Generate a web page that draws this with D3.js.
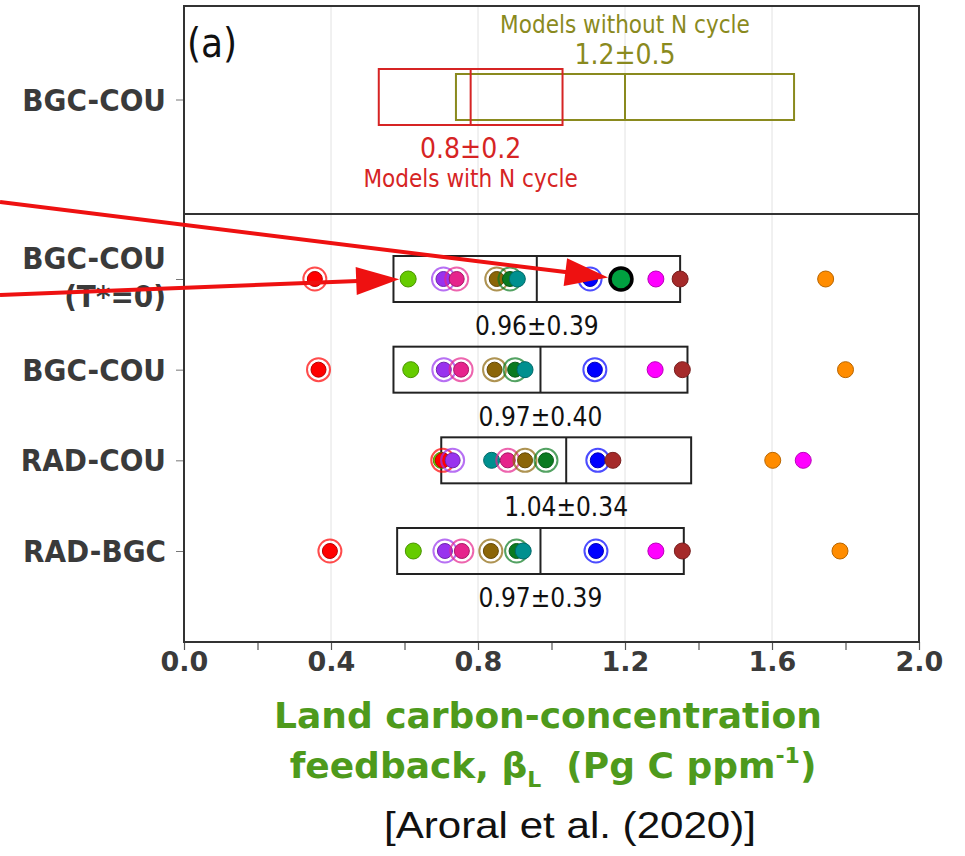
<!DOCTYPE html>
<html>
<head>
<meta charset="utf-8">
<script src="https://cdn.jsdelivr.net/npm/d3@7"></script>
<style>
body { margin: 0; background: #fff; }
text { font-family: "DejaVu Sans", Verdana, sans-serif; }
.cond { font-family: "DejaVu Sans Condensed", "DejaVu Sans", sans-serif; font-stretch: condensed; }
</style>
</head>
<body>
<div id="chart"></div>
<script>
// rows of the lower panel (experiments)
var rowLabels = [["BGC-COU", "(T*=0)"], ["BGC-COU"], ["RAD-COU"], ["RAD-BGC"]];
var topRowLabel = "BGC-COU";

// models, identified by their marker colour; true = model with N cycle (ringed marker)
var modelNames = ["red", "lime", "purple", "pink", "brown", "darkgreen", "teal", "blue", "magenta", "brownred", "orange"];
var withNCycle = [true, false, true, true, true, true, false, true, false, false, false];

// beta_L of each model, one array per row
var rowValues = [
    [0.356, 0.610, 0.706, 0.742, 0.851, 0.887, 0.907, 1.105, 1.284, 1.350, 1.746],
    [0.366, 0.617, 0.707, 0.754, 0.845, 0.901, 0.928, 1.118, 1.282, 1.356, 1.800],
    [0.704, 0.700, 0.731, 0.881, 0.928, 0.985, 0.837, 1.126, 1.685, 1.167, 1.602],
    [0.397, 0.624, 0.710, 0.756, 0.835, 0.905, 0.923, 1.121, 1.284, 1.356, 1.785]
];
var boxMean = [0.96, 0.97, 1.04, 0.97];
var boxSd = [0.39, 0.40, 0.34, 0.39];

// highlighted extra point in the first row
var highlightRow = 0, highlightValue = 1.189;

// upper panel: the two model groups
var groupNames = ["Models with N cycle", "Models without N cycle"];
var groupLow = [0.53, 0.74];
var groupMid = [0.78, 1.20];
var groupHigh = [1.03, 1.66];
var groupText = ["0.8\u00b10.2", "1.2\u00b10.5"];

var xTickValues = [0, 0.2, 0.4, 0.6, 0.8, 1.0, 1.2, 1.4, 1.6, 1.8, 2.0];
var xTickLabels = ["0.0", "", "0.4", "", "0.8", "", "1.2", "", "1.6", "", "2.0"];
var gridValues = [0.4, 0.8, 1.2, 1.6];

// styles
var modelColors = ["#ff0000", "#66cc00", "#9933ee", "#e6238c", "#8b6508", "#0a7a20", "#00908f", "#0000ff", "#ff00ff", "#a52a2a", "#ff8c00"];
var groupColors = ["#d62424", "#8a8a1e"];
var textColor = "#3a3a3a", titleColor = "#4e9a1c", arrowColor = "#ee1111";

var width = 965, height = 856;
var plotLeft = 184, plotRight = 919, plotTop = 6, plotBottom = 642, divider = 214;

var svg = d3.select("#chart").append("svg")
    .attr("width", width)
    .attr("height", height);

var x = d3.scaleLinear().domain([0, 2]).range([plotLeft, plotRight]);
var y = d3.scalePoint().domain(d3.range(rowLabels.length)).range([279, 551]);
var yTop = 97;

// grid lines
svg.append("g").selectAll("line")
    .data(gridValues)
    .enter().append("line")
    .attr("x1", d => x(d)).attr("x2", d => x(d))
    .attr("y1", plotTop).attr("y2", plotBottom)
    .attr("stroke", "#e2e2e2").attr("stroke-width", 1);

// x axis
var xAxis = svg.append("g")
    .attr("transform", "translate(0," + plotBottom + ")")
    .call(d3.axisBottom(x).tickValues(xTickValues)
        .tickFormat((d, i) => xTickLabels[i]).tickSize(8));
xAxis.select(".domain").remove();
xAxis.selectAll("line").attr("stroke", "#555").attr("stroke-width", 1.2);
xAxis.selectAll("text")
    .attr("y", 29).attr("dy", 0)
    .attr("fill", textColor)
    .style("font-size", "27px").style("font-weight", "bold");

// y ticks
var yAxis = svg.append("g")
    .attr("transform", "translate(" + plotLeft + ",0)")
    .call(d3.axisLeft(y).tickFormat("").tickSize(8));
yAxis.select(".domain").remove();
yAxis.selectAll("line").attr("stroke", "#777");
svg.append("line")
    .attr("x1", plotLeft - 8).attr("x2", plotLeft)
    .attr("y1", yTop + 3).attr("y2", yTop + 3)
    .attr("stroke", "#777");

// row labels
svg.append("text")
    .attr("class", "cond")
    .attr("x", 166).attr("y", yTop + 14)
    .attr("text-anchor", "end")
    .attr("fill", textColor)
    .style("font-size", "31px").style("font-weight", "bold")
    .text(topRowLabel);

rowLabels.forEach((lines, i) => {
    var t = svg.append("text")
        .attr("class", "cond")
        .attr("text-anchor", "end")
        .attr("fill", textColor)
        .style("font-size", "31px").style("font-weight", "bold");
    var y0 = lines.length > 1 ? y(i) - 10 : y(i) + 11;
    lines.forEach((s, j) => {
        t.append("tspan").attr("x", 166).attr("y", y0 + j * 38).text(s);
    });
});

// upper panel group boxes (olive first, red on top)
[1, 0].forEach(g => {
    var h = g == 0 ? 28 : 23;
    var grp = svg.append("g").attr("stroke", groupColors[g]).attr("stroke-width", 2).attr("fill", "none");
    grp.append("rect")
        .attr("x", x(groupLow[g])).attr("y", yTop - h)
        .attr("width", x(groupHigh[g]) - x(groupLow[g])).attr("height", 2 * h);
    grp.append("line")
        .attr("x1", x(groupMid[g])).attr("x2", x(groupMid[g]))
        .attr("y1", yTop - h).attr("y2", yTop + h);
});

// upper panel texts
svg.append("text").attr("class", "cond")
    .attr("x", x(groupMid[1])).attr("y", 33)
    .attr("text-anchor", "middle").attr("fill", groupColors[1])
    .style("font-size", "24px").text(groupNames[1]);
svg.append("text").attr("class", "cond")
    .attr("x", x(groupMid[1])).attr("y", 64)
    .attr("text-anchor", "middle").attr("fill", groupColors[1])
    .style("font-size", "28px").text(groupText[1]);
svg.append("text").attr("class", "cond")
    .attr("x", x(groupMid[0])).attr("y", 158)
    .attr("text-anchor", "middle").attr("fill", groupColors[0])
    .style("font-size", "28px").text(groupText[0]);
svg.append("text").attr("class", "cond")
    .attr("x", x(groupMid[0])).attr("y", 187)
    .attr("text-anchor", "middle").attr("fill", groupColors[0])
    .style("font-size", "24px").text(groupNames[0]);

svg.append("text").attr("class", "cond")
    .attr("x", 187).attr("y", 57)
    .attr("fill", "#111")
    .style("font-size", "40px").text("(a)");

// lower panel boxes: mean +/- sd
var boxes = svg.append("g");
rowLabels.forEach((lines, i) => {
    boxes.append("rect")
        .attr("x", x(boxMean[i] - boxSd[i])).attr("y", y(i) - 23)
        .attr("width", x(boxMean[i] + boxSd[i]) - x(boxMean[i] - boxSd[i]))
        .attr("height", 46)
        .attr("fill", "none").attr("stroke", "#222").attr("stroke-width", 2);
    boxes.append("line")
        .attr("x1", x(boxMean[i])).attr("x2", x(boxMean[i]))
        .attr("y1", y(i) - 23).attr("y2", y(i) + 23)
        .attr("stroke", "#222").attr("stroke-width", 2);
    boxes.append("text").attr("class", "cond")
        .attr("x", x(boxMean[i])).attr("y", y(i) + 56)
        .attr("text-anchor", "middle").attr("fill", "#111")
        .style("font-size", "26px")
        .text(d3.format(".2f")(boxMean[i]) + "\u00b1" + d3.format(".2f")(boxSd[i]));
});

// model markers
var points = [];
rowValues.forEach((vals, i) => {
    vals.forEach((v, m) => points.push({row: i, model: m, value: v}));
});
points.sort((a, b) => a.row - b.row || a.value - b.value);

var marks = svg.append("g");
points.forEach(p => {
    var c = modelColors[p.model];
    var cx = x(p.value), cy = y(p.row);
    if (withNCycle[p.model]) {
        marks.append("circle")
            .attr("cx", cx).attr("cy", cy).attr("r", 11.5)
            .attr("fill", "none").attr("stroke", c)
            .attr("stroke-opacity", 0.7).attr("stroke-width", 2);
    }
    marks.append("circle")
        .attr("cx", cx).attr("cy", cy)
        .attr("r", withNCycle[p.model] ? 7.5 : 8)
        .attr("fill", c)
        .attr("stroke", d3.color(c).darker(0.9)).attr("stroke-width", 1);
});

marks.append("circle")
    .attr("cx", x(highlightValue)).attr("cy", y(highlightRow)).attr("r", 11)
    .attr("fill", "#00a040").attr("stroke", "#000").attr("stroke-width", 3.5);

// frame and panel divider
svg.append("rect")
    .attr("x", plotLeft).attr("y", plotTop)
    .attr("width", plotRight - plotLeft).attr("height", plotBottom - plotTop)
    .attr("fill", "none").attr("stroke", "#333").attr("stroke-width", 2);
svg.append("line")
    .attr("x1", plotLeft).attr("x2", plotRight)
    .attr("y1", divider).attr("y2", divider)
    .attr("stroke", "#333").attr("stroke-width", 2);

// arrows pointing at the highlighted point and the lime model of row 1
var arrows = [
    {sx: 0, sy: 202, tx: x(highlightValue), ty: y(highlightRow), gap: 13},
    {sx: 0, sy: 295, tx: x(rowValues[0][1]), ty: y(0), gap: 9}
];
arrows.forEach(a => {
    var dx = a.tx - a.sx, dy = a.ty - a.sy;
    var len = Math.sqrt(dx * dx + dy * dy);
    var ux = dx / len, uy = dy / len;
    var tipX = a.tx - ux * a.gap, tipY = a.ty - uy * a.gap;
    var bx = tipX - ux * 43, by = tipY - uy * 43;
    svg.append("line")
        .attr("x1", a.sx).attr("y1", a.sy)
        .attr("x2", bx + ux * 2).attr("y2", by + uy * 2)
        .attr("stroke", arrowColor).attr("stroke-width", 4);
    var pts = [[tipX, tipY], [bx - uy * 14, by + ux * 14], [bx + uy * 14, by - ux * 14]];
    svg.append("path")
        .attr("d", d3.line()(pts) + "Z")
        .attr("fill", arrowColor);
});

// axis title
var title = svg.append("g")
    .attr("fill", titleColor)
    .style("font-size", "36px").style("font-weight", "bold");
title.append("text")
    .attr("x", 548).attr("y", 728)
    .attr("text-anchor", "middle")
    .text("Land carbon-concentration");
var t2 = title.append("text")
    .attr("x", 553).attr("y", 778)
    .attr("text-anchor", "middle")
    .style("white-space", "pre");
t2.append("tspan").text("feedback, \u03b2");
t2.append("tspan").attr("dy", 9).style("font-size", "22px").text("L");
t2.append("tspan").attr("dy", -9).text("  (Pg C ppm");
t2.append("tspan").attr("dy", -15).style("font-size", "22px").text("-1");
t2.append("tspan").attr("dy", 15).text(")");

svg.append("text")
    .attr("x", 570).attr("y", 838)
    .attr("text-anchor", "middle")
    .attr("fill", "#111")
    .style("font-family", "'Liberation Sans', Arial, sans-serif")
    .style("font-size", "36px")
    .attr("textLength", 372)
    .attr("lengthAdjust", "spacingAndGlyphs")
    .text("[Aroral et al. (2020)]");
</script>
</body>
</html>
